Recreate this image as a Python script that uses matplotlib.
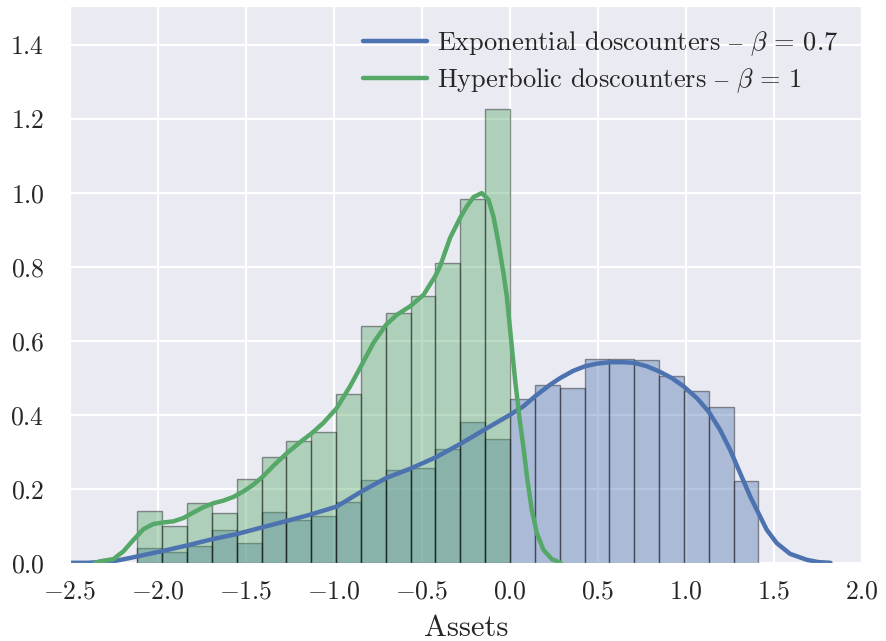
import numpy as np
import matplotlib
matplotlib.use("Agg")
import matplotlib.pyplot as plt
import seaborn as sns

# histogram bins (shared width, both start at the lowest asset level)
bin_lo = -2.118
bin_w = 0.14116

exp_heights = [0.040, 0.029, 0.046, 0.089, 0.054, 0.136, 0.115, 0.127, 0.165,
               0.224, 0.251, 0.257, 0.307, 0.380, 0.334, 0.442, 0.480, 0.473,
               0.551, 0.551, 0.549, 0.505, 0.464, 0.422, 0.221]
hyp_heights = [0.139, 0.100, 0.161, 0.134, 0.227, 0.285, 0.329, 0.354, 0.456,
               0.639, 0.675, 0.720, 0.809, 0.983, 1.226]

# density curves
exp_x = [-2.5, -2.4, -2.33, -2.254, -2.14, -1.973, -1.834, -1.69, -1.55,
         -1.407, -1.269, -1.136, -0.985, -0.843, -0.705, -0.564, -0.422,
         -0.28, -0.138, 0.0, 0.076, 0.142, 0.227, 0.284, 0.36, 0.426, 0.492,
         0.568, 0.644, 0.706, 0.777, 0.847, 0.919, 0.985, 1.061, 1.127,
         1.193, 1.25, 1.307, 1.364, 1.411, 1.458, 1.515, 1.591, 1.686, 1.75,
         1.82]
exp_y = [0.0, 0.0, 0.002, 0.004, 0.015, 0.032, 0.047, 0.064, 0.078, 0.096,
         0.113, 0.130, 0.152, 0.193, 0.229, 0.255, 0.285, 0.322, 0.362, 0.400,
         0.423, 0.450, 0.481, 0.499, 0.519, 0.531, 0.538, 0.542, 0.542, 0.540,
         0.531, 0.517, 0.499, 0.477, 0.445, 0.409, 0.359, 0.305, 0.242, 0.179,
         0.134, 0.089, 0.053, 0.024, 0.008, 0.002, 0.0]

hyp_x = [-2.358, -2.33, -2.254, -2.197, -2.14, -2.083, -2.026, -1.97,
         -1.913, -1.856, -1.799, -1.743, -1.686, -1.629, -1.572, -1.515,
         -1.459, -1.407, -1.345, -1.269, -1.193, -1.127, -1.061, -0.985,
         -0.909, -0.843, -0.777, -0.705, -0.644, -0.568, -0.492, -0.426,
         -0.398, -0.341, -0.284, -0.246, -0.208, -0.161, -0.123, -0.095,
         -0.066, -0.038, -0.019, 0.0, 0.028, 0.053, 0.076, 0.098, 0.123,
         0.152, 0.189, 0.237, 0.288]
hyp_y = [0.0, 0.004, 0.010, 0.031, 0.062, 0.091, 0.105, 0.109, 0.112, 0.121,
         0.136, 0.150, 0.161, 0.168, 0.178, 0.193, 0.211, 0.232, 0.262, 0.296,
         0.326, 0.350, 0.378, 0.418, 0.477, 0.535, 0.594, 0.643, 0.670, 0.693,
         0.724, 0.774, 0.801, 0.878, 0.932, 0.963, 0.988, 0.999, 0.981, 0.936,
         0.864, 0.783, 0.720, 0.630, 0.495, 0.392, 0.310, 0.224, 0.143, 0.080,
         0.035, 0.010, 0.0]

labels = ["Exponential doscounters $\\mathrm{\u2013}$ $\\beta\\,=\\,0.7$",
          "Hyperbolic doscounters $\\mathrm{\u2013}$ $\\beta\\,=\\,1$"]
blue = "#4C72B0"
green = "#55A868"

sns.set_style("darkgrid")
plt.rcParams["font.family"] = ["cmr10", "DejaVu Serif"]
plt.rcParams["mathtext.fontset"] = "cm"
plt.rcParams["axes.formatter.use_mathtext"] = True
plt.rcParams["grid.linewidth"] = 1.6

fig = plt.figure(figsize=(8.87, 6.41), dpi=100)
ax = fig.add_axes([0.079, 0.122, 0.893, 0.869])

exp_edges = bin_lo + bin_w * np.arange(len(exp_heights))
hyp_edges = bin_lo + bin_w * np.arange(len(hyp_heights))

ax.bar(exp_edges, exp_heights, width=bin_w, align="edge", color=blue,
       alpha=0.4, edgecolor="black", linewidth=1)
ax.plot(exp_x, exp_y, color=blue, lw=3.2, label=labels[0])
ax.bar(hyp_edges, hyp_heights, width=bin_w, align="edge", color=green,
       alpha=0.4, edgecolor="black", linewidth=1)
ax.plot(hyp_x, hyp_y, color=green, lw=3.2, label=labels[1])

ax.set_xlim(-2.5, 2.0)
ax.set_ylim(0, 1.505)
ax.set_xticks(np.arange(-2.5, 2.01, 0.5))
ax.set_yticks(np.arange(0, 1.41, 0.2))
ax.tick_params(axis="x", labelsize=18.5, pad=9)
ax.tick_params(axis="y", labelsize=18.5, pad=15)
ax.set_xlabel("Assets", fontsize=22, labelpad=8)

ax.legend(loc="upper right", fontsize=19, frameon=False,
          handlelength=2.4, handletextpad=0.4, borderaxespad=0.5,
          labelspacing=0.3)

fig.savefig("out.png", dpi=100)
